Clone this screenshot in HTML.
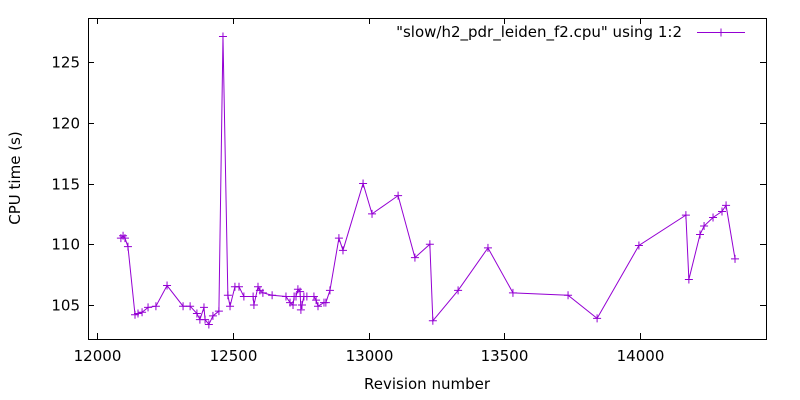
<!DOCTYPE html>
<html><head><meta charset="utf-8"><style>
body{margin:0;background:#fff}
svg{display:block;font-family:"DejaVu Sans","Liberation Sans",sans-serif}
</style></head><body>
<svg id="chart" width="800" height="400">
<rect x="88.5" y="18.5" width="678" height="321" fill="none" stroke="#000"/>
<g id="axes"></g>
<g id="series"></g>
<text x="427" y="389" text-anchor="middle" font-size="15">Revision number</text>
<text transform="translate(20,178) rotate(-90)" text-anchor="middle" font-size="15">CPU time (s)</text>
<g>
<text x="682" y="37" text-anchor="end" font-size="15">"slow/h2_pdr_leiden_f2.cpu" using 1:2</text>
<line x1="697" y1="32.5" x2="745" y2="32.5" stroke="#9400d3"/>
<path d="M717 32.5h8M721 28.5v8" stroke="#9400d3"/>
</g>
</svg>
<script>
const revisions=[12088,12096,12103,12114,12140,12151,12166,12188,12217,12258,12317,12343,12368,12379,12394,12398,12412,12427,12449,12464,12482,12490,12508,12523,12541,12575,12578,12593,12600,12611,12645,12696,12711,12722,12726,12733,12740,12748,12751,12755,12762,12773,12799,12807,12814,12836,12843,12858,12891,12906,12980,13013,13109,13171,13226,13237,13330,13440,13532,13735,13842,13996,14169,14180,14221,14236,14269,14302,14317,14350];
const cpuTimes=[110.5,110.7,110.5,109.8,104.2,104.3,104.4,104.8,104.9,106.6,104.9,104.9,104.3,103.8,104.8,103.8,103.4,104.1,104.5,127.1,105.8,104.9,106.5,106.5,105.7,105.7,105.0,106.5,106.2,106.0,105.8,105.7,105.2,105.0,105.7,105.7,106.3,106.1,104.6,105.0,105.7,105.7,105.7,105.4,104.9,105.2,105.2,106.2,110.5,109.5,115.0,112.5,114.0,108.9,110.0,103.7,106.2,109.7,106.0,105.8,103.9,109.9,112.4,107.1,110.8,111.5,112.2,112.7,113.2,108.8];
const xTicks=[12000,12500,13000,13500,14000];
const yTicks=[105,110,115,120,125];
const NS="http://www.w3.org/2000/svg";
const X=v=>97+(v-12000)*0.2715;
const Y=v=>305-(v-105)*12.15;
const axes=document.getElementById('axes'),ser=document.getElementById('series');
function mk(tag,attrs,parent){const e=document.createElementNS(NS,tag);for(const k in attrs)e.setAttribute(k,attrs[k]);parent.appendChild(e);return e;}
xTicks.forEach(t=>{const x=Math.round(X(t))+0.5;
 mk('path',{d:`M${x} 339V333M${x} 18V24`,stroke:'#000'},axes);
 const tx=mk('text',{x:x,y:361,'text-anchor':'middle','font-size':'15'},axes);tx.textContent=t;
 
 });
yTicks.forEach(t=>{const y=Math.round(Y(t))+0.5;
 mk('path',{d:`M88 ${y}H94M766 ${y}H760`,stroke:'#000'},axes);
 const tx=mk('text',{x:80,y:y+5,'text-anchor':'end','font-size':'15'},axes);tx.textContent=t;
 
 });
const line=mk('polyline',{points:revisions.map((r,i)=>X(r)+','+Y(cpuTimes[i])).join(' '),fill:'none',stroke:'#9400d3','stroke-width':'1'},ser);


revisions.forEach((r,i)=>{const x=X(r),y=Y(cpuTimes[i]);
 const p=mk('path',{d:`M${x-4} ${y}h8M${x} ${y-4}v8`,stroke:'#9400d3'},ser);
 
 });
</script>
</body></html>
